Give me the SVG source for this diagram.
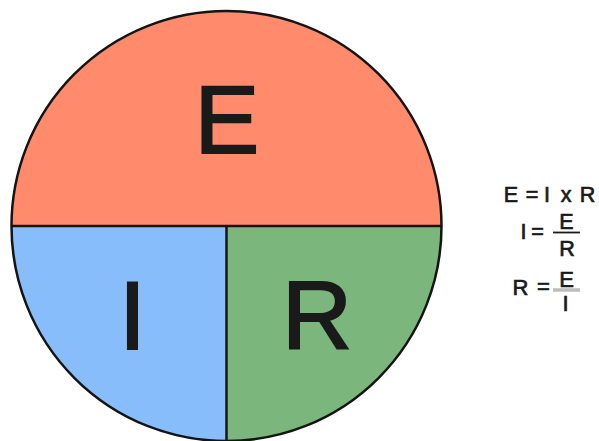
<svg xmlns="http://www.w3.org/2000/svg" width="599" height="441" viewBox="0 0 599 441">
<style>
.big{font-family:"Liberation Sans",Arial,sans-serif;font-size:97px;fill:#1a1a1a;stroke:#1a1a1a;stroke-width:2px}
.f{font-family:"Liberation Sans",Arial,sans-serif;font-size:21.5px;fill:#1a1a1a;stroke:#1a1a1a;stroke-width:0.7px;text-anchor:middle}
.f3{font-size:22px}
.edge{fill:none;stroke:#141414;stroke-width:2.5}
</style>
<rect width="599" height="441" fill="#ffffff"/>
<g id="sector-E">
<path d="M 11.5 226 A 215 215 0 0 1 441.5 226 Z" fill="#FF8B6C"/>
<text class="big" x="194.5" y="153.2">E</text>
</g>
<g id="sector-I">
<path d="M 226.5 226 L 11.5 226 A 215 215 0 0 0 226.5 441 Z" fill="#88BDFB"/>
<text class="big" x="119" y="349">I</text>
</g>
<g id="sector-R">
<path d="M 226.5 226 L 226.5 441 A 215 215 0 0 0 441.5 226 Z" fill="#7BB77D"/>
<text class="big" x="282" y="349">R</text>
</g>
<g id="connectors">
<circle class="edge" cx="226.5" cy="226" r="215"/>
<line class="edge" x1="11.5" y1="226" x2="441.5" y2="226"/>
<line class="edge" x1="226.5" y1="226" x2="226.5" y2="441"/>
</g>
<g id="formula-1">
<text class="f" x="511" y="202">E</text>
<text class="f" x="532" y="202">=</text>
<text class="f" x="547" y="202">I</text>
<text class="f" x="566" y="202">x</text>
<text class="f" x="587.5" y="202">R</text>
</g>
<g id="formula-2">
<text class="f" x="523.5" y="239">I</text>
<text class="f" x="537.5" y="238.5">=</text>
<text class="f" x="566.5" y="228.5">E</text>
<line x1="553" y1="232.5" x2="580" y2="232.5" stroke="#1a1a1a" stroke-width="1.8"/>
<text class="f" x="567" y="256">R</text>
</g>
<g id="formula-3">
<text class="f f3" x="520.5" y="295">R</text>
<text class="f f3" x="543.5" y="294">=</text>
<text class="f f3" x="566.5" y="287">E</text>
<line x1="553" y1="290" x2="580" y2="290" stroke="#bdbdbd" stroke-width="3.5"/>
<text class="f f3" x="565.5" y="311">I</text>
</g>
</svg>
